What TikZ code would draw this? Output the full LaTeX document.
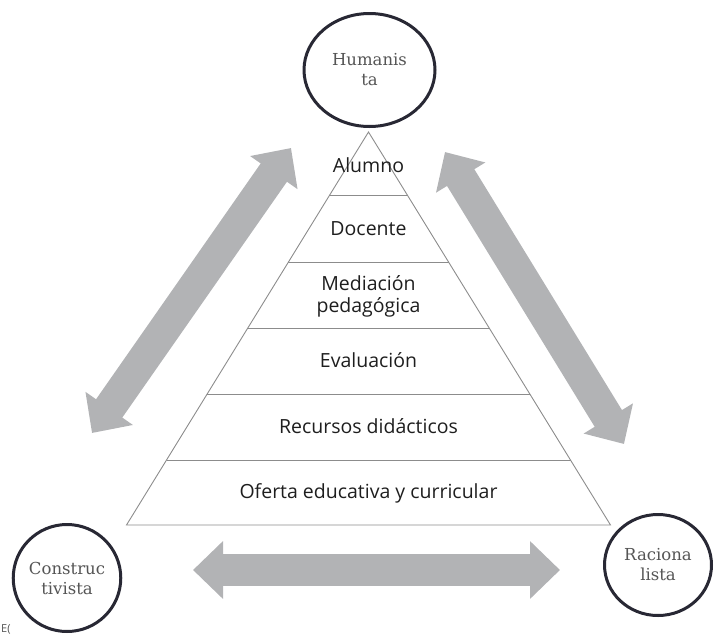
\documentclass[tikz,border=0pt]{standalone}
\usepackage{fontspec}
\setmainfont{Open Sans}
\newfontfamily\circfont{DejaVu Serif}
\usetikzlibrary{arrows.meta,shapes.geometric}
\definecolor{arrgray}{RGB}{178,179,181}
\definecolor{ringcol}{RGB}{40,40,52}
\definecolor{ringtxt}{RGB}{85,85,85}
\definecolor{pyrline}{RGB}{140,140,140}
\definecolor{pyrtxt}{RGB}{30,30,30}
\tikzset{
  ring/.style={ellipse, draw=ringcol, line width=3pt, fill=white, text=ringtxt,
    font=\circfont\fontsize{16.5}{20}\selectfont, align=center, inner sep=0pt},
  layer/.style={draw=pyrline, line width=0.9pt},
  lbl/.style={anchor=base, text=pyrtxt, font=\fontsize{19.5}{22}\selectfont, inner sep=0pt},
  bigarrow/.style={draw=arrgray, line width=32pt,
    arrows={Triangle[length=30pt,width=56pt,fill=arrgray]-Triangle[length=30pt,width=56pt,fill=arrgray]}}
}
\begin{document}
\begin{tikzpicture}[x=1pt,y=-1pt]
\useasboundingbox (0,0) rectangle (720,635);
% arrows
\coordinate (la1) at (92,433);
\coordinate (la2) at (291,148);
\coordinate (ra1) at (445,152);
\coordinate (ra2) at (624,444);
\coordinate (ha1) at (193,570);
\coordinate (ha2) at (560,570);
\draw[bigarrow] (la1) -- (la2);
\draw[bigarrow] (ra1) -- (ra2);
\draw[bigarrow] (ha1) -- (ha2);
% pyramid
\coordinate (apex) at (368.5,132);
\coordinate (bl) at (126.5,525);
\coordinate (br) at (610.5,525);
\draw[layer] (apex) -- (bl) -- (br) -- cycle;
\coordinate (l1) at (329.7,195); \coordinate (r1) at (407.3,195);
\coordinate (l2) at (288.4,262); \coordinate (r2) at (448.6,262);
\coordinate (l3) at (247.8,328); \coordinate (r3) at (489.2,328);
\coordinate (l4) at (207.2,394); \coordinate (r4) at (529.8,394);
\coordinate (l5) at (166.5,460); \coordinate (r5) at (570.5,460);
\draw[layer] (l1) -- (r1);
\draw[layer] (l2) -- (r2);
\draw[layer] (l3) -- (r3);
\draw[layer] (l4) -- (r4);
\draw[layer] (l5) -- (r5);
% labels
\node[lbl] (t1) at (368.5,172) {Alumno};
\node[lbl] (t2) at (368.5,235) {Docente};
\node[lbl] (t3a) at (368.5,290) {Mediación};
\node[lbl] (t3b) at (368.5,312) {pedagógica};
\node[lbl] (t4) at (368.5,367) {Evaluación};
\node[lbl] (t5) at (368.5,433) {Recursos didácticos};
\node[lbl] (t6) at (368.5,498) {Oferta educativa y curricular};
% circles
\node[ring, minimum width=131pt, minimum height=113pt] (hum) at (369.5,70) {Humanis\\ta};
\node[ring, minimum width=102pt, minimum height=107pt] (con) at (67,578) {Construc\\tivista};
\node[ring, minimum width=107pt, minimum height=101pt] (rac) at (658,565) {Raciona\\lista};
% fragment at left edge
\node[anchor=base west, inner sep=0pt, text=ringtxt, font=\fontsize{11}{11}\selectfont] (frag) at (1,632) {E(};
\end{tikzpicture}
\end{document}
